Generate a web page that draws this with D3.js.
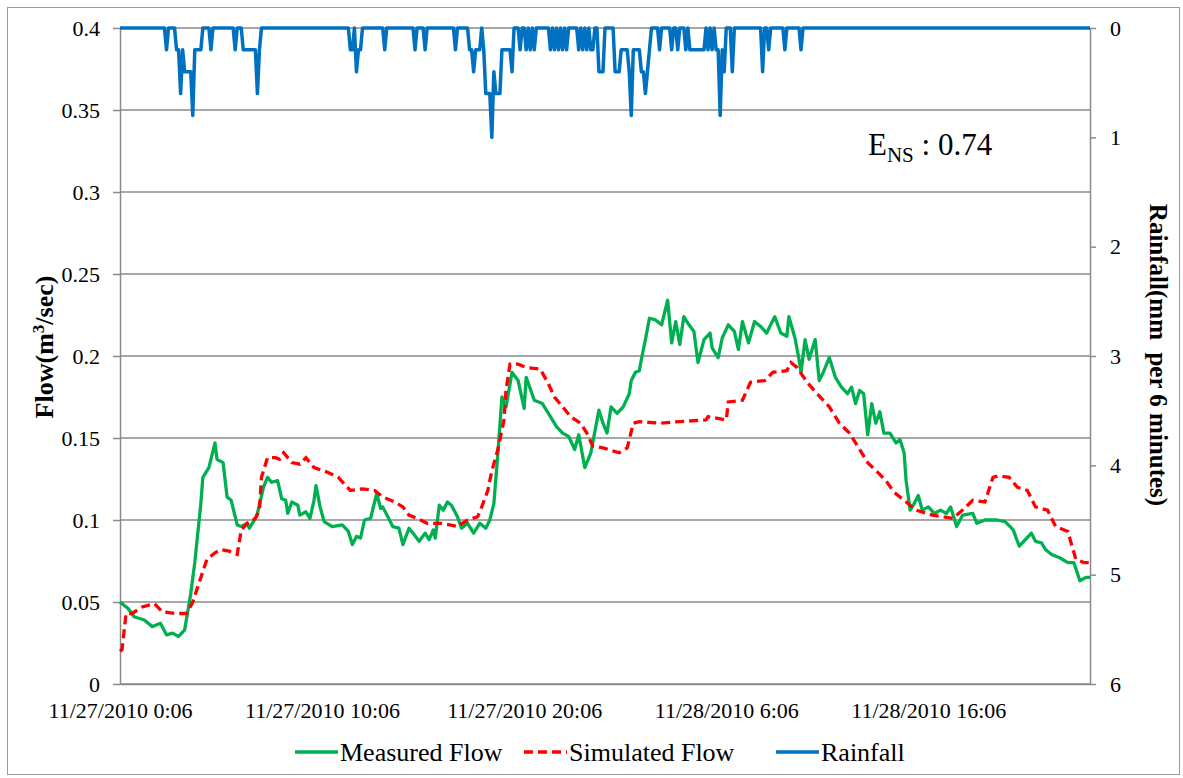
<!DOCTYPE html>
<html><head><meta charset="utf-8">
<script src="https://cdn.jsdelivr.net/npm/d3@7"></script>
<style>
body{margin:0;background:#fff}
svg{display:block}
text{font-family:"Liberation Serif","Times New Roman",serif;fill:#000}
</style>
</head><body>
<svg id="c" width="1183" height="778"></svg>
<script>
// ---------- DATA ----------
const startTime = new Date(2010, 10, 27, 0, 6);   // 11/27/2010 0:06
const stepMinutes = 6;
const totalSteps = 480;                           // 48 hours of 6-minute steps
const xTickSteps = [0, 100, 200, 300, 400];
const flowTicks = [0, 0.05, 0.1, 0.15, 0.2, 0.25, 0.3, 0.35, 0.4];
const rainTicks = [0, 1, 2, 3, 4, 5, 6];

const measuredSteps = [0,4,7,12,16,20,23,26,29,32,35,37,40,41,44,47,48,51,53,55,58,60,63,64,67,68,71,73,75,78,80,82,83,85,88,89,92,94,96,97,99,101,105,110,113,115,117,119,121,124,127,129,130,135,138,140,143,145,148,151,153,155,156,158,160,162,164,167,169,172,175,178,181,183,185,187,189,191,194,197,200,201,205,209,213,216,219,222,225,227,230,233,237,239,241,243,246,249,252,253,255,257,258,260,262,265,268,271,273,275,277,279,281,284,286,289,292,293,296,298,301,304,306,308,311,314,317,320,324,327,330,331,334,336,337,339,341,344,346,348,351,354,357,360,362,364,366,368,370,372,374,376,378,381,384,386,388,389,391,393,395,397,400,403,406,409,411,414,417,422,424,428,434,438,442,445,448,451,453,456,458,461,465,469,472,475,478,480];
const measuredFlow = [0.050,0.046,0.041,0.039,0.035,0.037,0.030,0.031,0.029,0.033,0.055,0.074,0.110,0.126,0.132,0.147,0.137,0.135,0.114,0.112,0.097,0.096,0.098,0.095,0.101,0.104,0.120,0.126,0.123,0.124,0.113,0.112,0.104,0.111,0.109,0.103,0.105,0.101,0.112,0.121,0.108,0.099,0.096,0.097,0.093,0.085,0.090,0.089,0.100,0.101,0.116,0.107,0.108,0.096,0.095,0.085,0.095,0.092,0.087,0.092,0.088,0.094,0.089,0.109,0.106,0.111,0.109,0.102,0.095,0.098,0.092,0.098,0.095,0.100,0.110,0.141,0.175,0.169,0.190,0.185,0.168,0.187,0.173,0.171,0.163,0.157,0.153,0.151,0.143,0.152,0.132,0.141,0.167,0.159,0.153,0.169,0.165,0.169,0.177,0.185,0.190,0.191,0.198,0.210,0.223,0.222,0.219,0.234,0.208,0.221,0.207,0.224,0.220,0.215,0.196,0.210,0.214,0.205,0.199,0.211,0.219,0.215,0.204,0.221,0.208,0.221,0.218,0.214,0.224,0.214,0.212,0.224,0.211,0.198,0.190,0.210,0.198,0.210,0.185,0.190,0.199,0.187,0.181,0.177,0.181,0.171,0.179,0.177,0.152,0.171,0.159,0.166,0.153,0.153,0.147,0.149,0.141,0.124,0.106,0.110,0.115,0.106,0.108,0.104,0.106,0.104,0.108,0.096,0.103,0.104,0.098,0.100,0.100,0.099,0.094,0.084,0.088,0.092,0.087,0.086,0.082,0.079,0.077,0.074,0.074,0.063,0.065,0.065];

const simulatedSteps = [0,1,3,6,11,17,21,27,33,36,40,43,47,50,54,58,60,63,67,69,70,73,77,79,81,85,89,92,96,103,108,111,114,120,126,130,136,140,143,147,152,159,167,172,177,179,182,184,187,190,191,193,197,201,208,212,215,219,223,228,231,234,239,247,251,254,257,267,277,290,291,300,301,308,312,319,323,330,332,335,340,345,351,356,361,365,370,375,379,383,388,394,402,412,416,422,428,432,435,440,444,449,453,459,463,469,473,477,480];
const simulatedFlow = [0.020,0.021,0.043,0.043,0.047,0.049,0.044,0.043,0.043,0.050,0.065,0.076,0.080,0.082,0.081,0.079,0.094,0.098,0.101,0.106,0.126,0.138,0.138,0.137,0.141,0.135,0.134,0.138,0.132,0.129,0.126,0.122,0.118,0.119,0.118,0.114,0.111,0.108,0.103,0.101,0.098,0.098,0.096,0.100,0.102,0.108,0.118,0.130,0.143,0.161,0.179,0.195,0.195,0.193,0.192,0.183,0.175,0.169,0.163,0.159,0.153,0.145,0.144,0.141,0.144,0.159,0.160,0.159,0.160,0.161,0.163,0.161,0.172,0.173,0.184,0.185,0.190,0.191,0.196,0.193,0.184,0.177,0.169,0.159,0.153,0.145,0.135,0.129,0.124,0.117,0.112,0.106,0.103,0.101,0.105,0.112,0.111,0.126,0.127,0.126,0.120,0.118,0.108,0.106,0.096,0.093,0.076,0.074,0.074];

// rainfall: steps with non-zero rain (mm per 6 minutes); all other steps are 0
const rainSteps = [23,28,29,30,31,32,33,34,35,36,37,38,39,40,45,
  57,61,62,63,64,65,66,67,68,69,
  114,115,117,118,119,131,146,151,166,
  173,174,175,176,177,178,180,181,182,183,184,185,186,187,188,189,190,191,192,193,194,198,201,203,205,
  213,215,217,219,221,227,229,231,233,234,237,238,239,
  245,246,247,248,249,250,251,252,253,254,255,256,257,258,259,260,261,262,
  267,273,276,280,282,283,284,285,286,287,288,289,291,293,295,296,297,298,299,303,
  318,321,329,337];
const rainValues = [0.2,0.2,0.2,0.6,0.2,0.4,0.4,0.4,0.4,0.8,0.2,0.2,0.2,0.2,0.2,
  0.2,0.2,0.2,0.2,0.2,0.2,0.2,0.2,0.6,0.2,
  0.2,0.2,0.4,0.2,0.2,0.2,0.2,0.2,0.2,
  0.2,0.2,0.4,0.2,0.2,0.2,0.2,0.6,0.6,0.6,1.0,0.4,0.6,0.6,0.6,0.2,0.2,0.2,0.2,0.2,0.4,0.2,0.2,0.2,0.2,
  0.2,0.2,0.2,0.2,0.2,0.2,0.2,0.2,0.2,0.2,0.4,0.4,0.4,
  0.4,0.4,0.4,0.2,0.2,0.2,0.2,0.4,0.8,0.2,0.2,0.2,0.2,0.4,0.4,0.6,0.4,0.2,
  0.2,0.2,0.2,0.2,0.2,0.2,0.2,0.2,0.2,0.2,0.2,0.2,0.2,0.2,0.2,0.2,0.8,0.2,0.4,0.4,
  0.4,0.2,0.2,0.2];

// ---------- CHART ----------
const FONT = '"Liberation Serif","Times New Roman",serif';
const svg = d3.select("#c");
const M = {l: 120, r: 1090, t: 28, b: 684};
const gridColor = "#8a8a8a";
const toDate = s => new Date(startTime.getTime() + s * stepMinutes * 60000);

const x = d3.scaleTime().domain([toDate(0), toDate(totalSteps)]).range([M.l, M.r]);
const y = d3.scaleLinear().domain([0, 0.4]).range([M.b, M.t]);
const yR = d3.scaleLinear().domain([0, 6]).range([M.t, M.b]);

// outer frame
svg.append("rect").attr("x", 7.5).attr("y", 7.5).attr("width", 1172).attr("height", 767)
  .attr("fill", "none").attr("stroke", "#9a9a9a").attr("stroke-width", 1);

// gridlines
svg.append("g").selectAll("line").data(flowTicks).join("line")
  .attr("x1", M.l).attr("x2", M.r)
  .attr("y1", d => y(d)).attr("y2", d => y(d))
  .attr("stroke", gridColor).attr("stroke-width", 1.5);

function styleAxis(g, size) {
  g.attr("font-family", FONT).attr("font-size", size);
  g.select(".domain").attr("stroke", gridColor).attr("stroke-width", 1.5);
  g.selectAll(".tick line").attr("stroke", gridColor).attr("stroke-width", 1.5);
  g.selectAll(".tick text").style("font-family", FONT).style("font-size", size + "px").attr("fill", "#000");
}

// left axis
const gL = svg.append("g").attr("transform", `translate(${M.l},0)`)
  .call(d3.axisLeft(y).tickValues(flowTicks).tickSize(7).tickSizeOuter(0).tickPadding(13)
    .tickFormat(d => String(+d.toFixed(2))));
styleAxis(gL, 22);

// right axis
const gR = svg.append("g").attr("transform", `translate(${M.r},0)`)
  .call(d3.axisRight(yR).tickValues(rainTicks).tickSize(6).tickSizeOuter(0).tickPadding(14)
    .tickFormat(d3.format("d")));
styleAxis(gR, 22);

// bottom axis
const gB = svg.append("g").attr("transform", `translate(0,${M.b})`)
  .call(d3.axisBottom(x).tickValues(xTickSteps.map(toDate)).tickSize(0).tickSizeOuter(0).tickPadding(18)
    .tickFormat(d3.timeFormat("%-m/%d/%Y %-H:%M")));
styleAxis(gB, 22);

// series
const measured = measuredSteps.map((s, i) => ({t: toDate(s), v: measuredFlow[i]}));
const simulated = simulatedSteps.map((s, i) => ({t: toDate(s), v: simulatedFlow[i]}));
const rainMap = new Map(rainSteps.map((s, i) => [s, rainValues[i]]));
const rain = d3.range(0, totalSteps + 1).map(s => ({t: toDate(s), v: rainMap.get(s) || 0}));

const lineL = d3.line().x(d => x(d.t)).y(d => y(d.v));
const lineR = d3.line().x(d => x(d.t)).y(d => yR(d.v));

svg.append("path").datum(measured).attr("d", lineL)
  .attr("fill", "none").attr("stroke", "#00B050").attr("stroke-width", 3.3).attr("stroke-linejoin", "round");
svg.append("path").datum(simulated).attr("d", lineL)
  .attr("fill", "none").attr("stroke", "#FF0000").attr("stroke-width", 3.3)
  .attr("stroke-dasharray", "9,5");
svg.append("path").datum(rain).attr("d", lineR)
  .attr("fill", "none").attr("stroke", "#0070C0").attr("stroke-width", 3.5).attr("stroke-linejoin", "round");

// E_NS annotation
const ens = svg.append("text").attr("x", 868).attr("y", 155).style("font-size", "31px");
ens.append("tspan").text("E");
ens.append("tspan").text("NS").style("font-size", "21px").attr("dy", 7);
ens.append("tspan").text(" : 0.74").attr("dy", -7);

// axis titles
const tL = svg.append("text").attr("transform", "translate(53,347) rotate(-90)")
  .attr("text-anchor", "middle").style("font-size", "26px").style("font-weight", "bold");
tL.append("tspan").text("Flow(m");
tL.append("tspan").text("3").style("font-size", "17px").attr("dy", -9);
tL.append("tspan").text("/sec)").attr("dy", 9);

svg.append("text").attr("transform", "translate(1150,355) rotate(90)")
  .attr("text-anchor", "middle").style("font-size", "25px").style("font-weight", "bold")
  .attr("xml:space", "preserve").style("white-space", "pre")
  .text("Rainfall(mm  per 6 minutes)");

// legend
const legend = [
  {name: "Measured Flow", color: "#00B050", dash: null, x: 295},
  {name: "Simulated Flow", color: "#FF0000", dash: "9,5", x: 524},
  {name: "Rainfall", color: "#0070C0", dash: null, x: 776}
];
const lg = svg.append("g").selectAll("g").data(legend).join("g")
  .attr("transform", d => `translate(${d.x},752)`);
lg.append("line").attr("x1", 0).attr("x2", 43).attr("y1", 0).attr("y2", 0)
  .attr("stroke", d => d.color).attr("stroke-width", 3.5)
  .attr("stroke-dasharray", d => d.dash);
lg.append("text").attr("x", 45).attr("y", 8.5).style("font-size", "26px").text(d => d.name);
</script>
</body></html>
